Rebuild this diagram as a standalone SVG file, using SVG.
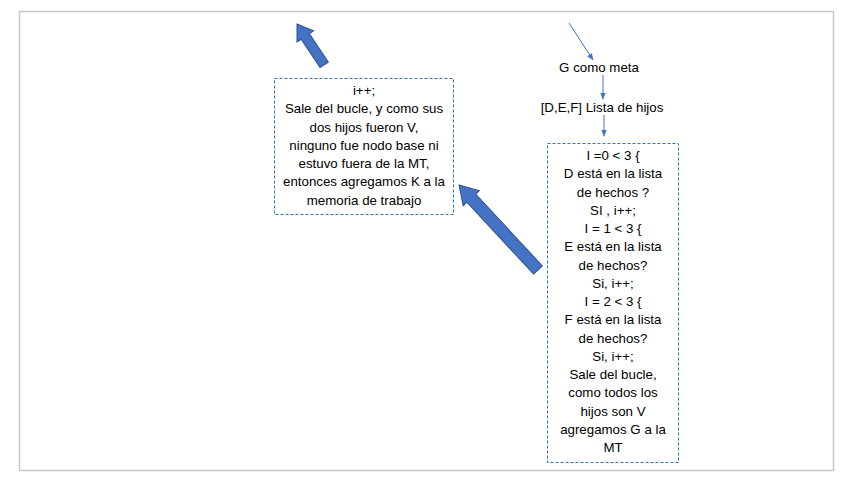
<svg xmlns="http://www.w3.org/2000/svg" width="855" height="484" viewBox="0 0 855 484">
<style>
.frame{fill:#fff;stroke:#c8c8c8;stroke-width:1.5}
.box{fill:#fff;stroke:#2e75b6;stroke-width:1;stroke-dasharray:3 2}
.t{font-family:"Liberation Sans",Arial,sans-serif;font-size:13.3px;fill:#000;text-anchor:middle}
.thin{stroke:#4472c4;stroke-width:1;fill:none;marker-end:url(#ah)}
.block{fill:#4472c4;stroke:#2f528f;stroke-width:1}
</style>
<defs>
<marker id="ah" viewBox="0 0 10 10" refX="9" refY="5" markerWidth="7" markerHeight="7" orient="auto" markerUnits="userSpaceOnUse">
<path d="M0,1 L10,5 L0,9 z" fill="#4472c4"/>
</marker>
</defs>
<rect class="frame" x="19.5" y="11.5" width="814" height="459"/>
<g id="connectors">
<line class="thin" x1="569" y1="23" x2="593" y2="60"/>
<line class="thin" x1="603" y1="75" x2="603" y2="99"/>
<line class="thin" x1="604" y1="115" x2="604" y2="136"/>
<polygon class="block" transform="translate(459,185) rotate(-132.9)" points="0,0 -18,-11 -18,-6 -116,-6 -116,6 -18,6 -18,11"/>
<polygon class="block" transform="translate(297,24) rotate(-123.7)" points="0,0 -15,-10 -15,-5 -49,-5 -49,5 -15,5 -15,10"/>
</g>
<g id="goal">
<text class="t" x="599" y="72">G como meta</text>
</g>
<g id="children">
<text class="t" x="602" y="112">[D,E,F] Lista de hijos</text>
</g>
<g id="loopG">
<rect class="box" x="547.5" y="143.5" width="131" height="319"/>
<text class="t" x="613" y="160">I =0 &lt; 3 {</text>
<text class="t" x="613" y="178.3">D está en la lista</text>
<text class="t" x="613" y="196.5">de hechos ?</text>
<text class="t" x="613" y="214.8">SI , i++;</text>
<text class="t" x="613" y="233">I = 1 &lt; 3 {</text>
<text class="t" x="613" y="251.3">E está en la lista</text>
<text class="t" x="613" y="269.5">de hechos?</text>
<text class="t" x="613" y="287.8">Si, i++;</text>
<text class="t" x="613" y="306">I = 2 &lt; 3 {</text>
<text class="t" x="613" y="324.3">F está en la lista</text>
<text class="t" x="613" y="342.5">de hechos?</text>
<text class="t" x="613" y="360.8">Si, i++;</text>
<text class="t" x="613" y="379">Sale del bucle,</text>
<text class="t" x="613" y="397.3">como todos los</text>
<text class="t" x="613" y="415.5">hijos son V</text>
<text class="t" x="613" y="433.8">agregamos G a la</text>
<text class="t" x="613" y="452">MT</text>
</g>
<g id="loopK">
<rect class="box" x="274.5" y="78.5" width="179" height="136"/>
<text class="t" x="364" y="95">i++;</text>
<text class="t" x="364" y="113.3">Sale del bucle, y como sus</text>
<text class="t" x="364" y="131.5">dos hijos fueron V,</text>
<text class="t" x="364" y="149.8">ninguno fue nodo base ni</text>
<text class="t" x="364" y="168">estuvo fuera de la MT,</text>
<text class="t" x="364" y="186.3">entonces agregamos K a la</text>
<text class="t" x="364" y="204.5">memoria de trabajo</text>
</g>
</svg>
